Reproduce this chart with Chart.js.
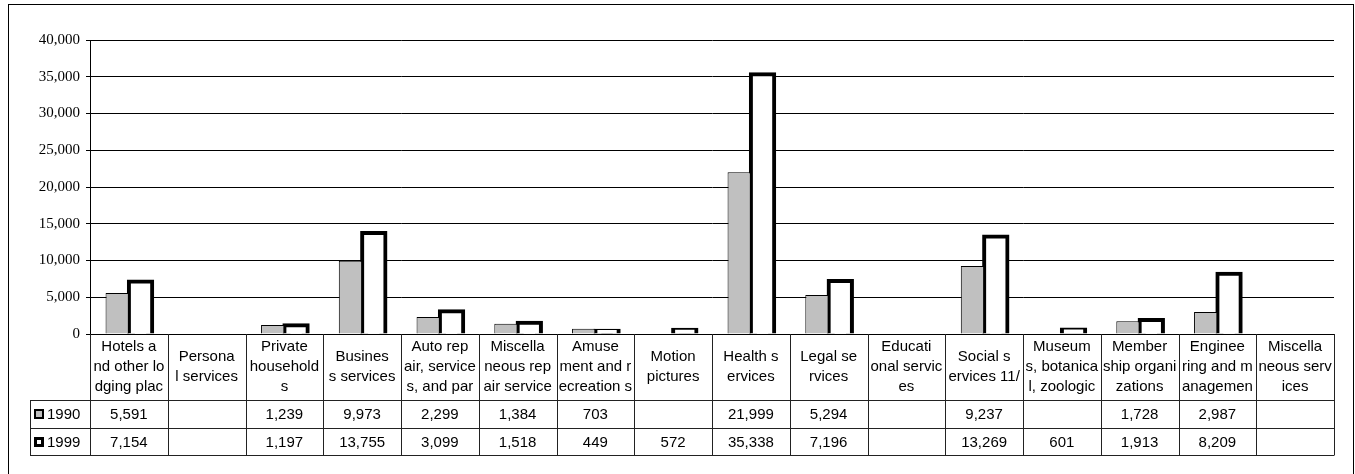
<!DOCTYPE html>
<html>
<head>
<meta charset="utf-8">
<script src="https://cdn.jsdelivr.net/npm/chart.js@4/dist/chart.umd.min.js"></script>
<style>
  html, body { margin: 0; padding: 0; background: #fff; }
  canvas { display: block; }
</style>
</head>
<body>
<canvas id="chart" width="1355" height="474"></canvas>
<script>
// Category names, wrapped the way they appear in the table header
const categories = [
  ["Hotels a", "nd other lo", "dging plac"],
  ["Persona", "l services"],
  ["Private", "household", "s"],
  ["Busines", "s services"],
  ["Auto rep", "air, service", "s, and par"],
  ["Miscella", "neous rep", "air service"],
  ["Amuse", "ment and r", "ecreation s"],
  ["Motion", "pictures"],
  ["Health s", "ervices"],
  ["Legal se", "rvices"],
  ["Educati", "onal servic", "es"],
  ["Social s", "ervices 11/"],
  ["Museum", "s, botanica", "l, zoologic"],
  ["Member", "ship organi", "zations"],
  ["Enginee", "ring and m", "anagemen"],
  ["Miscella", "neous serv", "ices"]
];

const seriesNames = ["1990", "1999"];
const values1990 = [5591, null, 1239, 9973, 2299, 1384, 703, null, 21999, 5294, null, 9237, null, 1728, 2987, null];
const values1999 = [7154, null, 1197, 13755, 3099, 1518, 449, 572, 35338, 7196, null, 13269, 601, 1913, 8209, null];

const yMin = 0;
const yMax = 40000;
const yStep = 5000;

const fmt = v => (v === null || v === undefined) ? "" : v.toLocaleString("en-US");

// Outer frame around the whole chart
const framePlugin = {
  id: "frame",
  beforeDraw(chart) {
    const ctx = chart.ctx;
    ctx.save();
    ctx.fillStyle = "#fff";
    ctx.fillRect(0, 0, chart.width, chart.height);
    ctx.strokeStyle = "#000";
    ctx.lineWidth = 1;
    ctx.strokeRect(8.5, 4.5, chart.width - 10, chart.height + 20);
    ctx.restore();
  }
};

// Data table under the plot: wrapped category names, then one row per series
const dataTablePlugin = {
  id: "dataTable",
  afterDraw(chart) {
    const ctx = chart.ctx;
    const area = chart.chartArea;
    const n = categories.length;
    const w = (area.right - area.left) / n;
    const headTop = area.bottom;
    const headBot = 400;
    const rowYs = [headBot, 428, 455];
    const tableLeft = 30;
    const rows = [values1990, values1999];

    ctx.save();
    // clear anything below the axis line before drawing the table
    ctx.fillStyle = "#fff";
    ctx.fillRect(area.left + 1, headTop + 1, area.right - area.left - 1, 6);

    ctx.strokeStyle = "#222";
    ctx.lineWidth = 1;

    // horizontal rules
    rowYs.forEach(y => {
      ctx.beginPath();
      ctx.moveTo(tableLeft, y + 0.5);
      ctx.lineTo(area.right, y + 0.5);
      ctx.stroke();
    });
    // left edge of the series rows
    ctx.beginPath();
    ctx.moveTo(tableLeft + 0.5, headBot);
    ctx.lineTo(tableLeft + 0.5, rowYs[2] + 0.5);
    ctx.stroke();
    // column separators
    for (let i = 0; i <= n; i++) {
      const x = Math.round(area.left + i * w) + 0.5;
      ctx.beginPath();
      ctx.moveTo(x, headTop);
      ctx.lineTo(x, rowYs[2] + 0.5);
      ctx.stroke();
    }

    ctx.fillStyle = "#000";
    ctx.font = "15px 'Liberation Sans', Arial, sans-serif";
    ctx.textAlign = "center";
    ctx.textBaseline = "middle";

    // header cells
    const lineH = 20;
    const headMid = (headTop + headBot) / 2;
    categories.forEach((lines, i) => {
      const cx = area.left + (i + 0.5) * w;
      const y0 = headMid - (lines.length - 1) * lineH / 2;
      lines.forEach((t, k) => ctx.fillText(t, cx, y0 + k * lineH));
    });

    // value rows
    rows.forEach((vals, r) => {
      const cy = (rowYs[r] + rowYs[r + 1]) / 2 + 1;
      vals.forEach((v, i) => {
        const cx = area.left + (i + 0.5) * w;
        ctx.fillText(fmt(v), cx, cy);
      });
    });

    // legend keys in the first column
    rows.forEach((vals, r) => {
      const cy = (rowYs[r] + rowYs[r + 1]) / 2;
      const kx = 34, ks = 10;
      const ky = Math.round(cy - ks / 2);
      if (r === 0) {
        ctx.fillStyle = "#000";
        ctx.fillRect(kx, ky, ks, ks);
        ctx.fillStyle = "#c0c0c0";
        ctx.fillRect(kx + 2, ky + 2, ks - 4, ks - 4);
      } else {
        ctx.fillStyle = "#000";
        ctx.fillRect(kx, ky, ks, ks);
        ctx.fillStyle = "#fff";
        ctx.fillRect(kx + 3, ky + 3, ks - 6, ks - 6);
      }
      ctx.fillStyle = "#000";
      ctx.textAlign = "left";
      ctx.fillText(seriesNames[r], kx + ks + 3, cy + 1);
    });

    ctx.restore();
  }
};

new Chart(document.getElementById("chart"), {
  type: "bar",
  data: {
    labels: categories,
    datasets: [
      {
        label: seriesNames[0],
        data: values1990,
        backgroundColor: "#c0c0c0",
        borderColor: "#000",
        borderWidth: 1,
        categoryPercentage: 0.6,
        barPercentage: 1.0
      },
      {
        label: seriesNames[1],
        data: values1999,
        backgroundColor: "#fff",
        borderColor: "#000",
        borderWidth: 4,
        inflateAmount: 2,
        categoryPercentage: 0.6,
        barPercentage: 1.0
      }
    ]
  },
  options: {
    responsive: false,
    animation: false,
    events: [],
    layout: { padding: { top: 40, right: 21, bottom: 140, left: 0 } },
    plugins: {
      legend: { display: false },
      tooltip: { enabled: false }
    },
    scales: {
      x: {
        ticks: { display: false },
        grid: { display: false },
        border: { display: true, color: "#000", width: 1 },
        afterFit(scale) { scale.height = 0; }
      },
      y: {
        min: yMin,
        max: yMax,
        ticks: {
          stepSize: yStep,
          color: "#000",
          padding: 6,
          font: { family: "'Liberation Serif', 'Times New Roman', serif", size: 15 },
          callback: v => fmt(v)
        },
        grid: { color: "#000", lineWidth: 1, tickLength: 4 },
        border: { display: true, color: "#000", width: 1 },
        afterFit(scale) { scale.width = 90; }
      }
    }
  },
  plugins: [framePlugin, dataTablePlugin]
});
</script>
</body>
</html>
